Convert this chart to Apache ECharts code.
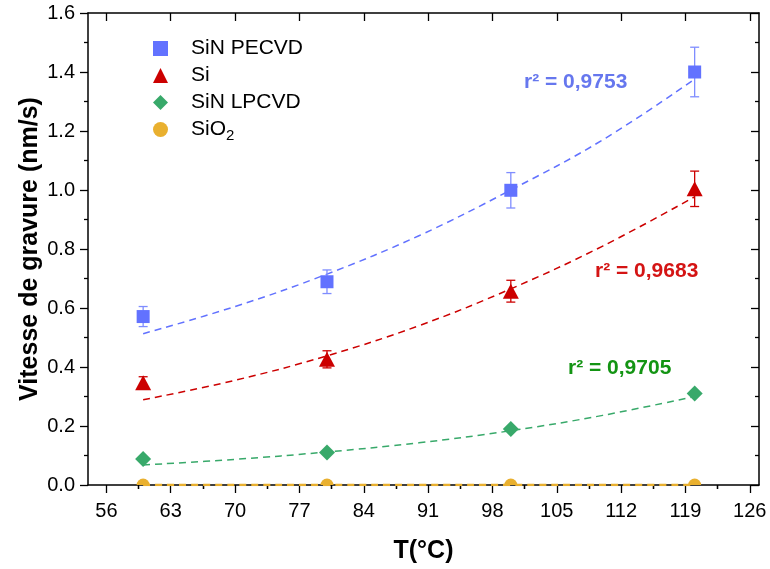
<!DOCTYPE html>
<html><head><meta charset="utf-8">
<script src="https://cdn.jsdelivr.net/npm/echarts@6/dist/echarts.min.js"></script>
<style>html,body{margin:0;padding:0;background:#fff}#c{width:770px;height:569px}</style>
</head><body><div id="c"></div>
<script>
const seriesNames = ['SiN PECVD', 'Si', 'SiN LPCVD', 'SiO2'];
const temps = [60, 80, 100, 120];
const sinPecvd = [0.571, 0.689, 0.999, 1.400];
const sinPecvdErr = [0.034, 0.040, 0.060, 0.084];
const si = [0.347, 0.426, 0.657, 1.004];
const siErr = [0.020, 0.029, 0.037, 0.060];
const sinLpcvd = [0.088, 0.110, 0.190, 0.310];
const sio2 = [0, 0, 0, 0];
const fitTemps = [60, 70, 80, 90, 100, 110, 120];
const fitPecvd = [0.513, 0.605, 0.715, 0.845, 1.000, 1.170, 1.376];
const fitSi = [0.289, 0.355, 0.438, 0.540, 0.665, 0.810, 0.977];
const fitLpcvd = [0.068, 0.087, 0.112, 0.143, 0.184, 0.236, 0.300];
const fitSio2 = [0, 0, 0, 0, 0, 0, 0];
const r2Labels = ['r² = 0,9753', 'r² = 0,9683', 'r² = 0,9705'];
const xTicks = [56, 63, 70, 77, 84, 91, 98, 105, 112, 119, 126];
const xMinorTicks = [59.5, 66.5, 73.5, 80.5, 87.5, 94.5, 101.5, 108.5, 115.5, 122.5];

const C_BLUE = '#6272ff', C_BLUE_ERR = '#7f8dff', C_RED = '#cc0000', C_GREEN = '#38a96a', C_ORANGE = '#e9b02f';
const FONT = 'Liberation Sans, Arial, sans-serif';

const chart = echarts.init(document.getElementById('c'), null, {renderer: 'canvas'});

function pairs(xs, ys) { return xs.map((x, i) => [x, ys[i]]); }

function fitSeries(name, ys, color, width) {
  return {type: 'line', name: name, data: pairs(fitTemps, ys), smooth: 0.4, symbol: 'none', silent: true, z: 2,
    lineStyle: {color: color, width: width || 1.5, type: [7, 5]}};
}
function errSeries(name, vals, errs, color) {
  return {type: 'custom', name: name, z: 3, silent: true,
    data: temps.map((t, i) => [t, vals[i] - errs[i], vals[i] + errs[i]]),
    renderItem: function (params, api) {
      const lo = api.coord([api.value(0), api.value(1)]);
      const hi = api.coord([api.value(0), api.value(2)]);
      const w = 4.5;
      const st = {stroke: color, lineWidth: 1.3};
      return {type: 'group', children: [
        {type: 'line', shape: {x1: lo[0], y1: lo[1], x2: hi[0], y2: hi[1]}, style: st},
        {type: 'line', shape: {x1: lo[0] - w, y1: lo[1], x2: lo[0] + w, y2: lo[1]}, style: st},
        {type: 'line', shape: {x1: hi[0] - w, y1: hi[1], x2: hi[0] + w, y2: hi[1]}, style: st}
      ]};
    }};
}
function scatterSeries(name, ys, symbol, size, color) {
  return {type: 'scatter', name: name, data: pairs(temps, ys), symbol: symbol, symbolSize: size, z: 4,
    itemStyle: {color: color, opacity: 1}};
}

const tickStyle = {color: '#000', width: 1.3};
const axisLineStyle = {color: '#000', width: 1.5};

const option = {
  animation: false,
  backgroundColor: '#fff',
  textStyle: {fontFamily: FONT},
  grid: {left: 88, right: 11, top: 13, bottom: 83, containLabel: false},
  legend: {
    orient: 'vertical', left: 148, top: 33, itemWidth: 15, itemHeight: 15, itemGap: 6,
    data: [
      {name: seriesNames[0], icon: 'rect'},
      {name: seriesNames[1], icon: 'triangle'},
      {name: seriesNames[2], icon: 'diamond'},
      {name: seriesNames[3], icon: 'circle'}
    ],
    formatter: function (n) { return n === 'SiO2' ? 'SiO{sub|2}' : n; },
    textStyle: {fontSize: 21, color: '#000', fontFamily: FONT, padding: [0, 0, 0, 18], lineHeight: 21,
      rich: {sub: {fontSize: 15, fontFamily: FONT, color: '#000', padding: [12, 0, 0, 0]}}}
  },
  xAxis: [
    {type: 'value', position: 'bottom', min: 54, max: 127,
      axisLine: {show: true, onZero: false, lineStyle: axisLineStyle},
      axisTick: {show: true, length: 8, customValues: xTicks, lineStyle: tickStyle},
      axisLabel: {show: true, customValues: xTicks, fontSize: 20, color: '#000', margin: 16, fontFamily: FONT},
      splitLine: {show: false},
      name: 'T(°C)', nameLocation: 'middle', nameGap: 54, nameMoveOverlap: false,
      nameTextStyle: {fontSize: 25, fontWeight: 'bold', color: '#000', fontFamily: FONT}},
    {type: 'value', position: 'bottom', min: 54, max: 127,
      axisLine: {show: false}, axisLabel: {show: false}, splitLine: {show: false},
      axisTick: {show: true, length: 4, customValues: xMinorTicks, lineStyle: tickStyle}},
    {type: 'value', position: 'top', min: 54, max: 127,
      axisLine: {show: true, onZero: false, lineStyle: axisLineStyle}, axisLabel: {show: false}, splitLine: {show: false},
      axisTick: {show: true, inside: true, length: 8, customValues: xTicks, lineStyle: tickStyle}},
    {type: 'value', position: 'top', min: 54, max: 127,
      axisLine: {show: false}, axisLabel: {show: false}, splitLine: {show: false},
      axisTick: {show: true, inside: true, length: 4, customValues: xMinorTicks, lineStyle: tickStyle}}
  ],
  yAxis: [
    {type: 'value', position: 'left', min: 0, max: 1.6, interval: 0.2,
      axisLine: {show: true, onZero: false, lineStyle: axisLineStyle},
      axisTick: {show: true, length: 8, lineStyle: tickStyle},
      minorTick: {show: true, splitNumber: 2, length: 4, lineStyle: tickStyle},
      axisLabel: {fontSize: 20, color: '#000', margin: 13, fontFamily: FONT, formatter: v => v.toFixed(1)},
      splitLine: {show: false},
      name: 'Vitesse de gravure (nm/s)', nameLocation: 'middle', nameGap: 45, nameMoveOverlap: false,
      nameTextStyle: {fontSize: 25, fontWeight: 'bold', color: '#000', fontFamily: FONT}},
    {type: 'value', position: 'right', min: 0, max: 1.6, interval: 0.2,
      axisLine: {show: true, onZero: false, lineStyle: axisLineStyle},
      axisTick: {show: true, inside: true, length: 8, lineStyle: tickStyle},
      minorTick: {show: true, splitNumber: 2, length: 4, lineStyle: tickStyle},
      axisLabel: {show: false}, splitLine: {show: false}}
  ],
  series: [
    fitSeries('fit PECVD', fitPecvd, C_BLUE),
    fitSeries('fit Si', fitSi, C_RED),
    fitSeries('fit LPCVD', fitLpcvd, C_GREEN),
    fitSeries('fit SiO2', fitSio2, C_ORANGE, 2.5),
    errSeries('err PECVD', sinPecvd, sinPecvdErr, C_BLUE_ERR),
    errSeries('err Si', si, siErr, C_RED),
    scatterSeries(seriesNames[0], sinPecvd, 'rect', 13, C_BLUE),
    scatterSeries(seriesNames[1], si, 'triangle', [16, 15], C_RED),
    scatterSeries(seriesNames[2], sinLpcvd, 'diamond', 16, C_GREEN),
    {type: 'custom', name: seriesNames[3], z: 4, itemStyle: {color: C_ORANGE},
      data: pairs(temps, sio2),
      renderItem: function (params, api) {
        const p = api.coord([api.value(0), api.value(1)]);
        return {type: 'sector', shape: {cx: p[0], cy: p[1], r0: 0, r: 6.5, startAngle: Math.PI, endAngle: Math.PI * 2},
          style: {fill: C_ORANGE}};
      }}
  ],
  graphic: [
    {type: 'text', left: 524, top: 72, style: {text: r2Labels[0], fill: '#6677ee', font: 'bold 21px ' + FONT}},
    {type: 'text', left: 595, top: 261, style: {text: r2Labels[1], fill: '#d41414', font: 'bold 21px ' + FONT}},
    {type: 'text', left: 568, top: 358, style: {text: r2Labels[2], fill: '#139413', font: 'bold 21px ' + FONT}}
  ]
};
chart.setOption(option);
</script>
</body></html>
